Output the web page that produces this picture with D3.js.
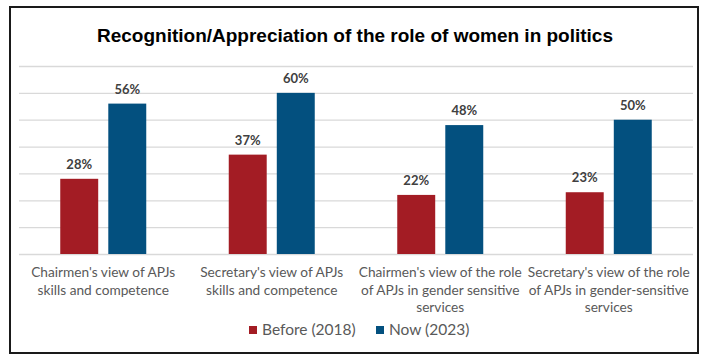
<!DOCTYPE html>
<html>
<head>
<meta charset="utf-8">
<script src="https://cdn.jsdelivr.net/npm/d3@7"></script>
<style>
  html, body { margin: 0; padding: 0; background: #fff; }
  svg { display: block; }
</style>
</head>
<body>
<div id="chart"></div>
<script>
// chart data
const categories = [
  "Chairmen's view of APJs\nskills and competence",
  "Secretary's view of APJs\nskills and competence",
  "Chairmen's view of the role\nof APJs in gender sensitive\nservices",
  "Secretary's view of the role\nof APJs in gender-sensitive\nservices"
];
const seriesNames = ["Before (2018)", "Now (2023)"];
const before2018 = [28, 37, 22, 23];
const now2023 = [56, 60, 48, 50];
const yTicks = [0, 10, 20, 30, 40, 50, 60, 70];

const colors = ['#A31C24', '#03507F'];
const W = 705, H = 355;
const margin = { left: 19, right: 12, top: 66, bottom: 101 };
const plotW = W - margin.left - margin.right;
const plotH = H - margin.top - margin.bottom;

const svg = d3.select('#chart').append('svg')
  .attr('width', W).attr('height', H);

// outer frame
svg.append('rect')
  .attr('x', 10).attr('y', 7).attr('width', 688).attr('height', 346)
  .attr('fill', '#fff').attr('stroke', '#1a1a1a').attr('stroke-width', 2);

svg.append('text')
  .attr('x', 355).attr('y', 42)
  .attr('text-anchor', 'middle')
  .style('font', 'bold 19px "Liberation Sans", Arial, sans-serif')
  .attr('fill', '#000')
  .attr('textLength', 516).attr('lengthAdjust', 'spacingAndGlyphs')
  .text('Recognition/Appreciation  of the role of women  in politics');

const g = svg.append('g').attr('transform', `translate(${margin.left},${margin.top})`);

const x0 = d3.scaleBand().domain(d3.range(categories.length)).range([0, plotW]).paddingInner(0).paddingOuter(0);
const x1 = d3.scaleBand().domain([0, 1]).range([x0.bandwidth() / 2 - 43, x0.bandwidth() / 2 + 43]).paddingInner(0.21);
const y = d3.scaleLinear().domain([0, 70]).range([plotH, 0]);

// gridlines
g.append('g')
  .call(d3.axisLeft(y).tickValues(yTicks).tickSize(-plotW).tickFormat(''))
  .call(a => a.select('.domain').remove())
  .call(a => a.selectAll('line').attr('stroke', '#d9d9d9').attr('stroke-width', 1.3));

const rows = categories.map((c, i) => ({ i, vals: [before2018[i], now2023[i]] }));

const grp = g.selectAll('.grp').data(rows).join('g')
  .attr('transform', d => `translate(${x0(d.i)},0)`);

grp.selectAll('rect').data(d => d.vals.map((v, k) => ({ v, k }))).join('rect')
  .attr('x', d => x1(d.k))
  .attr('width', x1.bandwidth())
  .attr('y', d => y(d.v))
  .attr('height', d => plotH - y(d.v))
  .attr('fill', d => colors[d.k]);

grp.selectAll('text.val').data(d => d.vals.map((v, k) => ({ v, k }))).join('text')
  .attr('class', 'val')
  .attr('x', d => x1(d.k) + x1.bandwidth() / 2)
  .attr('y', d => y(d.v) - 10)
  .attr('text-anchor', 'middle')
  .style('font', 'bold 13px Lato, "Open Sans", sans-serif')
  .attr('fill', '#404040')
  .text(d => d.v + '%');

// x axis labels
const xAxis = g.append('g').attr('transform', `translate(0,${plotH})`);
categories.forEach((c, i) => {
  const t = xAxis.append('text')
    .attr('x', x0(i) + x0.bandwidth() / 2)
    .attr('y', 23)
    .attr('text-anchor', 'middle')
    .style('font', '13.7px Lato, "Open Sans", sans-serif')
    .attr('fill', '#595959');
  c.split('\n').forEach((line, j) => {
    t.append('tspan').attr('x', x0(i) + x0.bandwidth() / 2).attr('dy', j ? 17.5 : 0).text(line);
  });
});

// legend
const legendX = [249, 376];
const legend = svg.append('g');
seriesNames.forEach((s, k) => {
  legend.append('rect').attr('x', legendX[k]).attr('y', 326).attr('width', 8).attr('height', 8).attr('fill', colors[k]);
  legend.append('text').attr('x', legendX[k] + 13).attr('y', 335)
    .style('font', '15.5px Lato, "Open Sans", sans-serif')
    .attr('fill', '#595959').text(s);
});
</script>
</body>
</html>
